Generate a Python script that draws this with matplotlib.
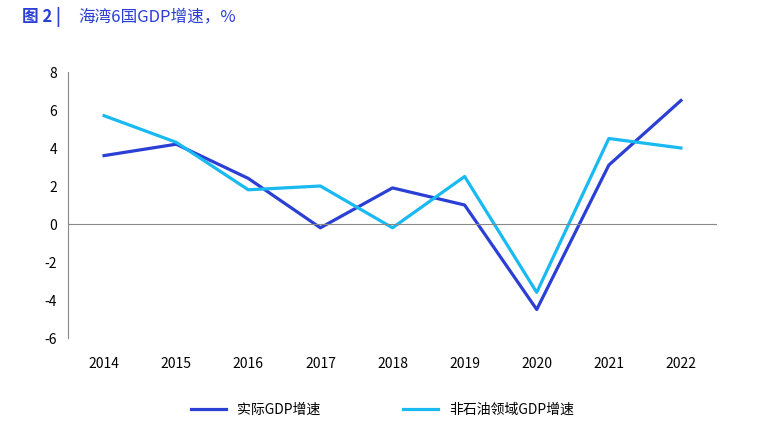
import matplotlib
matplotlib.use("Agg")
import matplotlib.pyplot as plt

plt.rcParams['font.family'] = ['Noto Sans CJK SC', 'DejaVu Sans']
plt.rcParams['axes.unicode_minus'] = False

years = ['2014','2015','2016','2017','2018','2019','2020','2021','2022']
real_gdp = [3.6, 4.2, 2.4, -0.2, 1.9, 1.0, -4.5, 3.1, 6.5]
nonoil_gdp = [5.7, 4.3, 1.8, 2.0, -0.2, 2.5, -3.6, 4.5, 4.0]

fig = plt.figure(figsize=(7.65, 4.29), dpi=100)
ax = fig.add_axes([68/765, 1-338/429, (717-68)/765, (338-72)/429])
x = range(len(years))
ax.plot(x, real_gdp, color='#2b3fd4', lw=2.3, label='实际GDP增速')
ax.plot(x, nonoil_gdp, color='#19b9f1', lw=2.3, label='非石油领域GDP增速')
ax.set_xlim(-0.5, len(years)-0.5)
ax.set_ylim(-6, 8)
ax.set_yticks(range(-6, 9, 2))
ax.set_xticks(list(x))
ax.set_xticklabels(years)
for s in ['top', 'right', 'bottom']:
    ax.spines[s].set_visible(False)
ax.spines['left'].set_color('#888888')
ax.axhline(0, color='#888888', lw=0.8)
ax.tick_params(axis='x', length=0, labelsize=10)
ax.tick_params(axis='y', length=0, pad=8, labelsize=10)
for lbl in ax.get_xticklabels():
    lbl.set_transform(ax.get_xaxis_transform())
    lbl.set_position((lbl.get_position()[0], -0.07))
fig.legend(loc='lower center', bbox_to_anchor=(0.5, 0.0), ncol=2, frameon=False,
           fontsize=10, columnspacing=6, handlelength=2.5)
fig.text(22/765, 1-17/429, '图 2 |', color='#2b3fd4', fontsize=12, fontweight='bold', va='center')
fig.text(78/765, 1-17/429, '海湾6国GDP增速，%', color='#2b3fd4', fontsize=12, va='center')
fig.savefig('out.png', dpi=100)
